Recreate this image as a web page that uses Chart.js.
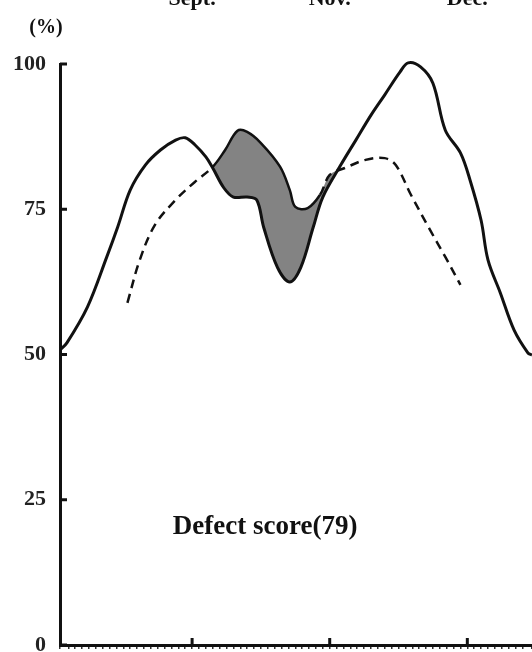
<!DOCTYPE html>
<html>
<head>
<meta charset="utf-8">
<script src="https://cdn.jsdelivr.net/npm/chart.js@4.4.1/dist/chart.umd.min.js"></script>
<style>
  html, body { margin: 0; padding: 0; background: #fff; }
  #wrap { width: 532px; height: 652px; }
</style>
</head>
<body>
<div id="wrap"><canvas id="defectChart"></canvas></div>
<script>
// x runs in tenths of a month-interval, ticks at 10 / 20 / 30
const monthTicks = [10, 20, 30];
const monthLabels = ['Sept.', 'Nov.', 'Dec.'];
const yTicks = [0, 25, 50, 75, 100];

// solid curve
const solidX = [0.4, 0.9, 2.4, 3.8, 4.6, 5.5, 6.6, 7.7, 8.8, 9.5, 10.2, 11.0, 11.5, 12.3, 13.0, 14.0, 14.7,
  15.2, 16.2, 17.1, 17.9, 18.8, 19.5, 20.8, 21.9, 23.0, 24.0, 25.1, 25.7, 26.6, 27.5, 28.4, 29.5,
  30.2, 31.0, 31.5, 32.4, 33.4, 34.4, 34.7];
const solidY = [50.8, 52, 58.2, 66.8, 72, 78.3, 82.6, 85.2, 86.9, 87.3, 86.1, 84, 82.1, 78.7, 77.1, 77.1, 76.6,
  71.9, 65, 62.5, 65, 71.9, 77.1, 82.6, 86.9, 91.2, 94.7, 98.6, 100.2, 99.5, 96.7, 88.6, 84.7,
  80, 73.1, 66.3, 60.6, 54.2, 50.3, 49.9];

// dashed curve
const dashX = [5.3, 6.2, 7.3, 8.8, 10.2, 11.5, 12.4, 13.3, 14.0, 15.0, 16.4, 17.1, 17.5, 18.4, 19.3,
  20.0, 21.1, 22.6, 24.0, 24.8, 25.9, 27.3, 28.4, 29.5];
const dashY = [58.9, 66.3, 72.3, 76.6, 79.7, 82.3, 85.2, 88.5, 88.3, 86.4, 82.3, 78.3, 75.4, 75.2, 77.5,
  80.9, 82.1, 83.5, 83.8, 82.6, 77.5, 71.4, 66.8, 62];

const caption = 'Defect score(79)';
const unitLabel = '(%)';

const serif = '"Liberation Serif", "DejaVu Serif", serif';
const ink = '#111';

const toPoints = (xs, ys) => xs.map((x, i) => ({ x: x, y: ys[i] }));

// dashed line turns solid where it bounds the shaded area
const shadedFrom = 11.4, shadedTo = 19.4;

const decorations = {
  id: 'decorations',
  afterDraw(chart) {
    const ctx = chart.ctx;
    const xs = chart.scales.x, ys = chart.scales.y;
    const left = chart.chartArea.left, bottom = chart.chartArea.bottom;
    ctx.save();
    ctx.strokeStyle = ink;
    ctx.lineWidth = 3;
    // inward ticks on the y axis
    yTicks.forEach(v => {
      const py = ys.getPixelForValue(v);
      ctx.beginPath();
      ctx.moveTo(left, py);
      ctx.lineTo(left + 7, py);
      ctx.stroke();
    });
    // major ticks on the x axis
    monthTicks.forEach(v => {
      const px = xs.getPixelForValue(v);
      ctx.beginPath();
      ctx.moveTo(px, bottom);
      ctx.lineTo(px, bottom - 7);
      ctx.stroke();
    });
    ctx.fillStyle = ink;
    ctx.font = 'bold 22px ' + serif;
    ctx.textAlign = 'center';
    ctx.textBaseline = 'alphabetic';
    monthTicks.forEach((v, i) => {
      ctx.fillText(monthLabels[i], xs.getPixelForValue(v), 5);
    });
    ctx.font = 'bold 20px ' + serif;
    ctx.fillText(unitLabel, 46, 33);
    ctx.font = 'bold 27px ' + serif;
    ctx.textAlign = 'left';
    ctx.textBaseline = 'middle';
    ctx.fillText(caption, xs.getPixelForValue(8.6), ys.getPixelForValue(20.3));
    ctx.restore();
  }
};

new Chart(document.getElementById('defectChart').getContext('2d'), {
  type: 'line',
  data: {
    datasets: [{
      label: 'solid',
      data: toPoints(solidX, solidY),
      borderColor: ink,
      borderWidth: 3,
      pointRadius: 0,
      tension: 0.35,
      fill: false,
      clip: false
    }, {
      label: 'dashed',
      data: toPoints(dashX, dashY),
      borderColor: ink,
      borderWidth: 2.5,
      pointRadius: 0,
      tension: 0.35,
      clip: false,
      fill: { target: 0, above: 'rgba(100,100,100,0.8)', below: 'rgba(0,0,0,0)' },
      segment: {
        borderDash: c => (c.p0.parsed.x >= shadedFrom && c.p1.parsed.x <= shadedTo ? [] : [9, 6])
      }
    }]
  },
  options: {
    responsive: true,
    maintainAspectRatio: false,
    animation: false,
    layout: { padding: { top: 64, right: 0, bottom: 0, left: 0 } },
    plugins: {
      legend: { display: false },
      tooltip: { enabled: false }
    },
    scales: {
      x: {
        type: 'linear',
        min: 0.4,
        max: 34.7,
        border: { display: true, color: ink, width: 3 },
        grid: { display: true, drawOnChartArea: false, tickLength: 4, color: '#333', lineWidth: 1.5 },
        ticks: { display: false, stepSize: 0.5 },
        afterFit: s => { s.height = 7; }
      },
      y: {
        min: 0,
        max: 100,
        border: { display: true, color: ink, width: 3 },
        grid: { display: false },
        afterBuildTicks: s => { s.ticks = yTicks.map(v => ({ value: v })); },
        ticks: {
          color: '#222',
          padding: 6,
          font: { family: serif, size: 22, weight: 'bold' }
        },
        afterFit: s => {
          s.width = 60;
          s.paddingTop = 0;
          s.paddingBottom = 0;
        }
      }
    }
  },
  plugins: [decorations]
});
</script>
</body>
</html>
